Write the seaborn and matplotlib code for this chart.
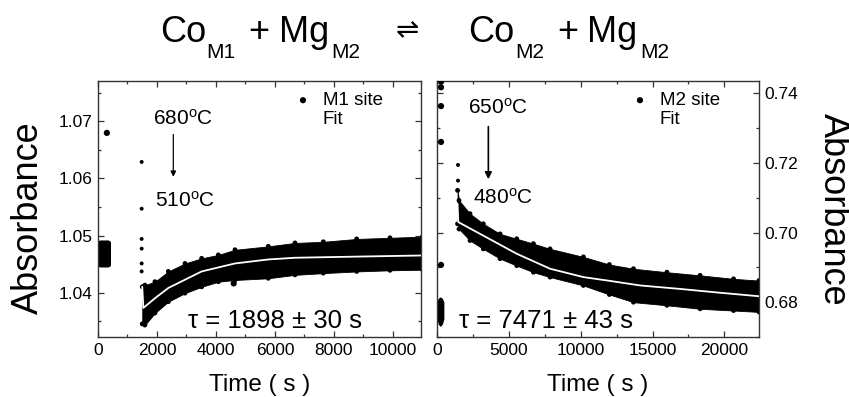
import matplotlib
matplotlib.use('Agg')
import matplotlib.pyplot as plt
from matplotlib.ticker import MultipleLocator, FormatStrFormatter
import seaborn as sns

# ---- M1 site (left panel) ----
m1_pre_t = [0, 60, 340, 400]
m1_pre_lo = [1.0448, 1.0446, 1.0446, 1.0448]
m1_pre_hi = [1.0489, 1.0491, 1.0491, 1.0489]
m1_band_t = [1500, 1590, 1930, 2385, 2950, 3514, 4080, 4644, 5774, 6678, 7638, 8768, 9898, 11000]
m1_band_lo = [1.0345, 1.0343, 1.0364, 1.0384, 1.0399, 1.0410, 1.0419, 1.0422, 1.0425, 1.0431, 1.0434, 1.0437, 1.0439, 1.0440]
m1_band_hi = [1.0410, 1.0413, 1.0419, 1.0437, 1.0451, 1.0460, 1.0466, 1.0475, 1.0481, 1.0487, 1.0489, 1.0494, 1.0496, 1.0498]
m1_out_t = [300, 4600]
m1_out_y = [1.0680, 1.0416]
m1_col_t = [1480, 1480, 1480, 1480, 1480, 1480]
m1_col_y = [1.0629, 1.0547, 1.0494, 1.0477, 1.0451, 1.0437]
fit1_t = [1500, 1537, 1932, 2385, 3514, 4644, 5774, 6678, 8768, 11000]
fit1_y = [1.0410, 1.0373, 1.0390, 1.0408, 1.0437, 1.0451, 1.0458, 1.0461, 1.0463, 1.0465]

# ---- M2 site (right panel) ----
m2_pre_t = [60, 150, 250, 350, 450]
m2_pre_lo = [0.6752, 0.6738, 0.6733, 0.6738, 0.6752]
m2_pre_hi = [0.6800, 0.6810, 0.6813, 0.6810, 0.6800]
m2_band_t = [1450, 1550, 2316, 3241, 4402, 5563, 6722, 7880, 10195, 12000, 13675, 16000, 18310, 20630, 22400]
m2_band_hi = [0.7121, 0.7092, 0.7054, 0.7025, 0.6996, 0.6982, 0.6968, 0.6953, 0.6930, 0.6908, 0.6896, 0.6886, 0.6877, 0.6867, 0.6862]
m2_band_lo = [0.7025, 0.7010, 0.6977, 0.6953, 0.6925, 0.6905, 0.6886, 0.6872, 0.6848, 0.6822, 0.6800, 0.6791, 0.6781, 0.6776, 0.6772]
m2_out_t = [300, 300, 300, 300, 300]
m2_out_y = [0.7433, 0.7417, 0.7363, 0.7260, 0.6907]
m2_col_t = [1480, 1480]
m2_col_y = [0.7194, 0.7149]
fit2_t = [1450, 1500, 3241, 5563, 7880, 10195, 12050, 14138, 16920, 19701, 22400]
fit2_y = [0.7082, 0.7030, 0.6991, 0.6939, 0.6896, 0.6872, 0.6861, 0.6848, 0.6838, 0.6827, 0.6817]

sns.set_style('ticks')
plt.rcParams['font.family'] = ['Liberation Sans', 'DejaVu Sans']
plt.rcParams['mathtext.fontset'] = 'custom'
plt.rcParams['mathtext.rm'] = 'Liberation Sans'
plt.rcParams['mathtext.it'] = 'Liberation Sans'
plt.rcParams['text.color'] = 'black'
plt.rcParams['axes.labelcolor'] = 'black'
plt.rcParams['xtick.color'] = 'black'
plt.rcParams['ytick.color'] = 'black'

W, H = 849, 397
fig = plt.figure(figsize=(W / 100, H / 100), dpi=100)
ax1 = fig.add_axes([98 / W, (H - 337) / H, 323 / W, 256 / H])
ax2 = fig.add_axes([436.7 / W, (H - 337) / H, 322.3 / W, 256 / H])


def draw_panel(ax, pre_t, pre_lo, pre_hi, band_t, band_lo, band_hi,
               out_t, out_y, col_t, col_y, fit_t, fit_y, site):
    # dense cloud of measured points, drawn as its envelope
    ax.fill_between(pre_t, pre_lo, pre_hi, color='black', lw=1.0)
    ax.fill_between(band_t, band_lo, band_hi, color='black', lw=0.6)
    sns.scatterplot(x=band_t + band_t, y=band_lo + band_hi, s=12, color='black',
                    edgecolor='none', ax=ax, zorder=2)
    sns.scatterplot(x=out_t, y=out_y, s=20, color='black', edgecolor='none',
                    ax=ax, label=site, zorder=3)
    sns.scatterplot(x=col_t, y=col_y, s=8, color='black', edgecolor='none',
                    ax=ax, zorder=3)
    sns.lineplot(x=fit_t, y=fit_y, color='white', lw=1.3, ax=ax, label='Fit',
                 sort=False, estimator=None, zorder=4)


draw_panel(ax1, m1_pre_t, m1_pre_lo, m1_pre_hi, m1_band_t, m1_band_lo, m1_band_hi,
           m1_out_t, m1_out_y, m1_col_t, m1_col_y, fit1_t, fit1_y, 'M1 site')
draw_panel(ax2, m2_pre_t, m2_pre_lo, m2_pre_hi, m2_band_t, m2_band_lo, m2_band_hi,
           m2_out_t, m2_out_y, m2_col_t, m2_col_y, fit2_t, fit2_y, 'M2 site')

ax1.set_xlim(0, 10950)
ax1.set_ylim(1.0322, 1.0771)
ax2.set_xlim(0, 22400)
ax2.set_ylim(0.6700, 0.7435)

ax1.xaxis.set_major_locator(MultipleLocator(2000))
ax1.xaxis.set_minor_locator(MultipleLocator(1000))
ax1.yaxis.set_major_locator(MultipleLocator(0.01))
ax1.yaxis.set_minor_locator(MultipleLocator(0.005))
ax2.xaxis.set_major_locator(MultipleLocator(5000))
ax2.xaxis.set_minor_locator(MultipleLocator(2500))
ax2.yaxis.set_major_locator(MultipleLocator(0.02))
ax2.yaxis.set_minor_locator(MultipleLocator(0.01))
for ax in (ax1, ax2):
    ax.yaxis.set_major_formatter(FormatStrFormatter('%.2f'))
    ax.xaxis.set_major_formatter(FormatStrFormatter('%d'))
    ax.tick_params(which='both', direction='in', top=True, bottom=True,
                   left=True, right=True, width=0.9, colors='#333333',
                   labelcolor='black', labelsize=12.5)
    ax.tick_params(which='major', length=4.5, pad=4)
    ax.tick_params(which='minor', length=2.5)
    for sp in ax.spines.values():
        sp.set_color('#333333')
        sp.set_linewidth(1.0)
    ax.set_xlabel('Time ( s )', fontsize=17.5, va='center')
    ax.xaxis.set_label_coords(0.5, -0.1875)

ax2.tick_params(labelleft=False, labelright=True)

ax1.set_ylabel('Absorbance', fontsize=26, va='center')
ax1.yaxis.set_label_coords(-0.215, 0.467)
ax2.yaxis.set_label_position('right')
ax2.set_ylabel('Absorbance', fontsize=26, rotation=270, va='center')
ax2.yaxis.set_label_coords(1.2296, 0.5)

# legends
ax1.legend(loc='upper left', bbox_to_anchor=(0.6056, 0.957), frameon=False,
           fontsize=13.5, borderaxespad=0, borderpad=0, handlelength=1.0,
           handletextpad=0.55, labelspacing=0.1)
ax2.legend(loc='upper left', bbox_to_anchor=(0.6016, 0.957), frameon=False,
           fontsize=13.5, borderaxespad=0, borderpad=0, handlelength=1.0,
           handletextpad=0.55, labelspacing=0.1)

# temperature annotations
ax1.text(1864, 1.0694, r'680$^{\mathrm{o}}$C', fontsize=15, va='baseline')
ax1.text(1932, 1.0551, r'510$^{\mathrm{o}}$C', fontsize=15, va='baseline')
ax1.annotate('', xy=(2553, 1.0598), xytext=(2553, 1.0682),
             arrowprops=dict(arrowstyle='-|>', color='black', lw=0.9, mutation_scale=8))
ax2.text(2200, 0.7341, r'650$^{\mathrm{o}}$C', fontsize=15, va='baseline')
ax2.text(2550, 0.7082, r'480$^{\mathrm{o}}$C', fontsize=15, va='baseline')
ax2.annotate('', xy=(3590, 0.7145), xytext=(3590, 0.7312),
             arrowprops=dict(arrowstyle='-|>', color='black', lw=1.2, mutation_scale=10))

ax1.text(3061, 1.0338, 'τ = 1898 ± 30 s', fontsize=18.5, va='baseline')
ax2.text(1572, 0.6725, 'τ = 7471 ± 43 s', fontsize=18.5, va='baseline')


# reaction title
def put(x, y, s, size):
    fig.text(x / W, 1 - y / H, s, fontsize=size, ha='left', va='baseline')


put(160, 42.3, 'Co', 26)
put(206.5, 58, 'M1', 15)
put(248, 42.3, '+', 26)
put(279.5, 42.3, 'Mg', 26)
put(331.5, 58, 'M2', 15)
fig.text(407 / W, 1 - 30.5 / H, '\u21cc', fontsize=20, ha='center', va='center',
         family='DejaVu Sans')
put(468, 42.3, 'Co', 26)
put(515.5, 58, 'M2', 15)
put(557, 42.3, '+', 26)
put(587.5, 42.3, 'Mg', 26)
put(640.5, 58, 'M2', 15)

fig.savefig('out.png', dpi=100)
